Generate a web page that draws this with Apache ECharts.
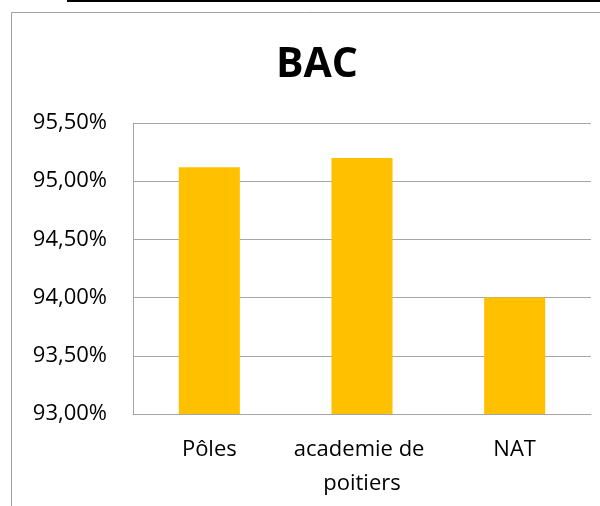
<!DOCTYPE html>
<html>
<head>
<meta charset="utf-8">
<script src="https://cdn.jsdelivr.net/npm/echarts@6/dist/echarts.min.js"></script>
<style>
  html, body { margin: 0; padding: 0; background: #fff; }
  #chart { width: 600px; height: 506px; }
</style>
</head>
<body>
<div id="chart"></div>
<script>
// BAC success rate per zone (%)
const categories = ['Pôles', 'academie de poitiers', 'NAT']
const bacRates = [95.12, 95.2, 94.0]
const yMin = 93
const yMax = 95.5
const yStep = 0.5

const chart = echarts.init(document.getElementById('chart'))

chart.setOption({
  animation: false,
  textStyle: { fontFamily: 'Open Sans' },
  title: {
    text: 'BAC',
    left: 271,
    top: 40,
    textStyle: {
      fontFamily: 'Open Sans',
      fontWeight: 'bold',
      fontSize: 41,
      color: '#000'
    }
  },
  // frame of the chart box + black rule on top
  graphic: [
    {
      type: 'polyline',
      silent: true,
      shape: { points: [[11.5, 506], [11.5, 12.5], [600, 12.5]] },
      style: { stroke: '#a0a0a0', lineWidth: 1, fill: null }
    },
    {
      type: 'rect',
      silent: true,
      shape: { x: 67, y: 0, width: 533, height: 2 },
      style: { fill: '#000' }
    }
  ],
  grid: {
    left: 133,
    right: 9,
    top: 123,
    bottom: 92,
    containLabel: false
  },
  xAxis: {
    type: 'category',
    data: categories,
    axisLine: { show: true, lineStyle: { color: '#a6a6a6', width: 1 } },
    axisTick: { show: false },
    axisLabel: {
      color: '#000',
      fontSize: 22,
      lineHeight: 34,
      margin: 19,
      width: 150,
      overflow: 'break',
      interval: 0
    }
  },
  yAxis: {
    type: 'value',
    min: yMin,
    max: yMax,
    interval: yStep,
    axisLine: { show: true, lineStyle: { color: '#a6a6a6', width: 1 } },
    axisTick: { show: false },
    splitLine: { show: true, lineStyle: { color: '#a6a6a6', width: 1 } },
    axisLabel: {
      color: '#000',
      fontSize: 22,
      margin: 26,
      formatter: function (v) {
        return v.toFixed(2).replace('.', ',') + '%'
      }
    }
  },
  series: [{
    type: 'bar',
    data: bacRates,
    barWidth: '40%',
    itemStyle: { color: '#ffc000' }
  }]
})
</script>
</body>
</html>
